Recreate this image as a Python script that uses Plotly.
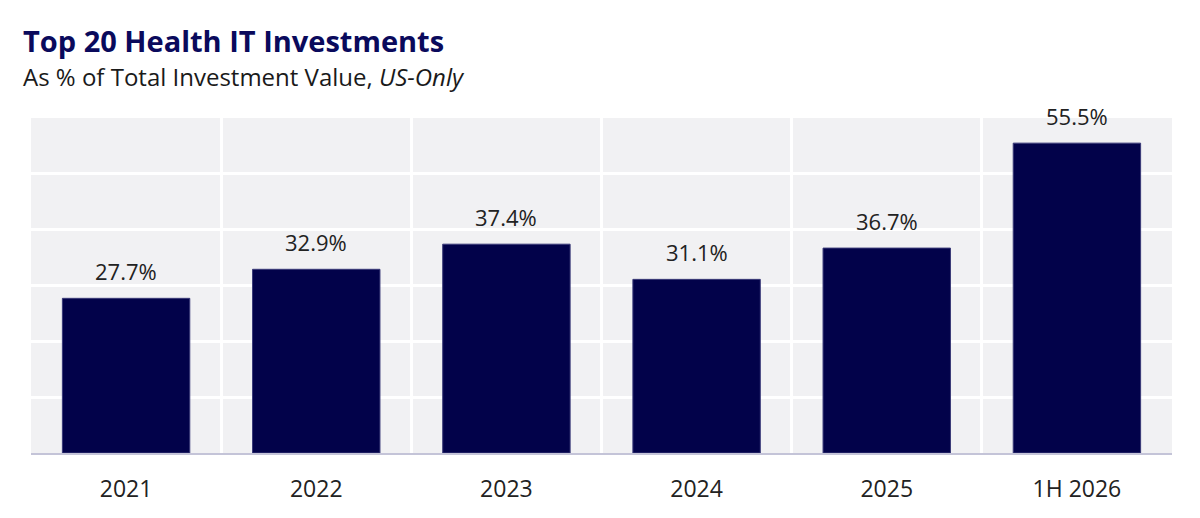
import plotly.graph_objects as go

# data
categories = ['2021', '2022', '2023', '2024', '2025', '1H 2026']
share_pct = [27.7, 32.9, 37.4, 31.1, 36.7, 55.5]
y_ticks = [0, 10, 20, 30, 40, 50, 60]

navy = '#02024a'
bgGrey = '#f1f1f3'
fontFamily = '"Open Sans", sans-serif'

# page body has an 8px margin, so the figure is drawn a bit smaller
figW, figH = 1184, 502
plotTop, plotBottom = 110, 445

fig = go.Figure(go.Bar(
    x=categories,
    y=share_pct,
    marker=dict(color=navy, line=dict(color='#3a3a78', width=1)),
    hoverinfo='x+y',
))

# value labels above the bars (x given as category index)
for i, v in enumerate(share_pct):
    fig.add_annotation(x=i, y=v, text='{:.1f}%'.format(v),
                       xref='x', yref='y',
                       yanchor='bottom', yshift=10, showarrow=False,
                       font=dict(size=22, color='#222222', family=fontFamily))

plotH = plotBottom - plotTop
fig.add_annotation(text='<b>Top 20 Health IT Investments</b>',
                   xref='paper', yref='paper', x=-0.0085,
                   y=(plotBottom - 32) / plotH,
                   xanchor='left', yanchor='middle', showarrow=False,
                   font=dict(size=29, color='#0a0a5c', family=fontFamily))
fig.add_annotation(text='As % of Total Investment Value, <i>US-Only</i>',
                   xref='paper', yref='paper', x=-0.0085,
                   y=(plotBottom - 69) / plotH,
                   xanchor='left', yanchor='middle', showarrow=False,
                   font=dict(size=24, color='#1a1a1a', family=fontFamily))

fig.update_layout(
    width=figW,
    height=figH,
    margin=dict(l=23, r=20, t=plotTop, b=figH - plotBottom),
    paper_bgcolor='white',
    plot_bgcolor=bgGrey,
    bargap=0.33,
    showlegend=False,
    font=dict(family=fontFamily, color='#222222'),
)

fig.update_xaxes(
    type='category',
    range=[-0.5, len(categories) - 0.5],
    tickson='boundaries',
    showgrid=True, gridcolor='white', gridwidth=3,
    ticks='', showline=True, linecolor='#c4c4d8', linewidth=2,
    tickfont=dict(size=23, color='#222222'),
    ticklabelstandoff=14,
    tickangle=0,
    automargin=False,
)
fig.update_yaxes(
    range=[0, 60], tickvals=y_ticks,
    showgrid=True, gridcolor='white', gridwidth=3,
    showticklabels=False, zeroline=False,
    automargin=False,
)

fig.write_html('out.html')
